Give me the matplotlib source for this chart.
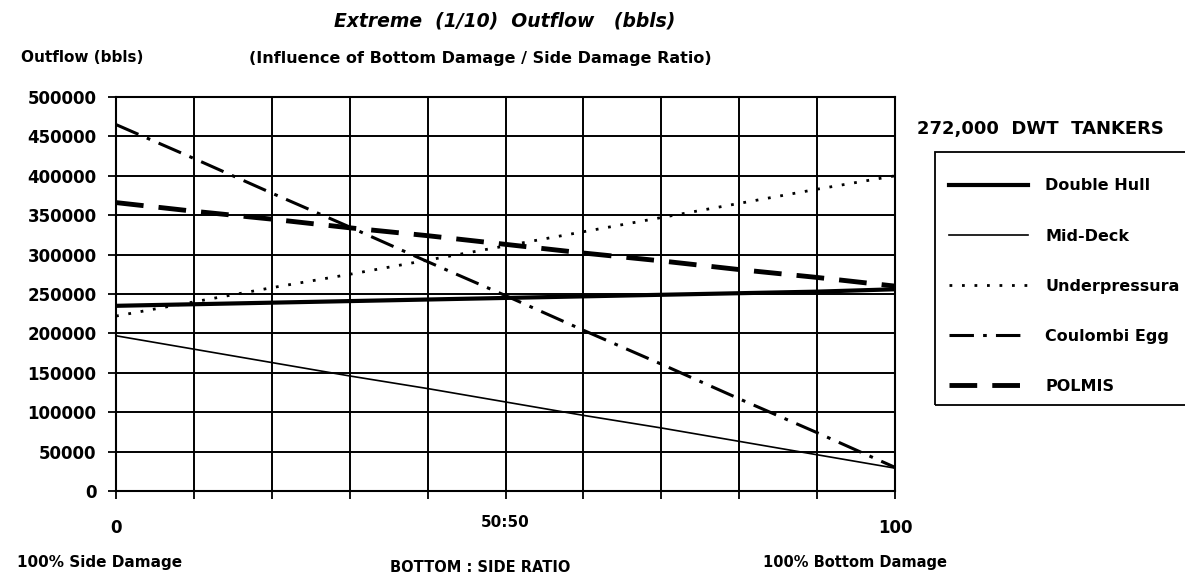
import matplotlib
matplotlib.use('Agg')
import matplotlib.pyplot as plt
from matplotlib.lines import Line2D
from matplotlib.patches import Rectangle
import numpy as np

plt.rcParams['font.family'] = 'DejaVu Sans'
plt.rcParams['font.weight'] = 'bold'

# bottom share of damage (%), 0 = all side damage, 100 = all bottom damage
ratio = [0, 10, 20, 30, 40, 50, 60, 70, 80, 90, 100]

double_hull = [235000, 237000, 239000, 241000, 243000, 245000, 247000, 249000, 251000, 253000, 256000]
mid_deck = [197000, 180000, 163000, 146000, 130000, 113000, 96000, 80000, 63000, 46000, 29000]
underpressure = [222000, 240000, 258000, 275000, 293000, 311000, 329000, 347000, 365000, 383000, 400000]
coulombi_egg = [465000, 422000, 378000, 335000, 291000, 248000, 204000, 161000, 117000, 74000, 30000]
polmis = [366000, 355000, 345000, 334000, 324000, 313000, 302000, 292000, 281000, 271000, 260000]

series_names = ['Double Hull', 'Mid-Deck', 'Underpressura', 'Coulombi Egg', 'POLMIS']
y_ticks = np.arange(0, 500001, 50000)

fig = plt.figure(figsize=(11.85, 5.81), dpi=100)
ax = fig.add_axes([116 / 1185, 90 / 581, 779 / 1185, 394 / 581])

styles = [
    dict(color='black', lw=3.0, ls='-'),
    dict(color='black', lw=1.2, ls='-'),
    dict(color='black', lw=2.0, ls=(0, (1, 3.5))),
    dict(color='black', lw=2.2, ls=(0, (8, 3, 1.2, 3))),
    dict(color='black', lw=3.5, ls=(0, (5.7, 3.1))),
]
all_series = [double_hull, mid_deck, underpressure, coulombi_egg, polmis]

handles = []
for vals, st, name in zip(all_series, styles, series_names):
    ax.plot(ratio, vals, **st)
    handles.append(Line2D([0], [0], **st, label=name))

ax.set_xlim(0, 100)
ax.set_ylim(0, 500000)
ax.set_xticks(ratio)
ax.set_xticklabels([])
ax.set_yticks(y_ticks)
ax.set_yticklabels([str(v) for v in y_ticks], fontsize=12, fontweight='bold')
ax.tick_params(axis='y', length=6, width=1.3, pad=8)
ax.tick_params(axis='x', length=6, width=1.3)
ax.grid(True, color='black', lw=1.4)
for s in ax.spines.values():
    s.set_linewidth(1.5)

# x axis labels
tr = ax.get_xaxis_transform()
ax.text(0, -0.095, '0', transform=tr, ha='center', va='center', fontsize=12, fontweight='bold')
ax.text(50, -0.079, '50:50', transform=tr, ha='center', va='center', fontsize=11, fontweight='bold')
ax.text(100, -0.095, '100', transform=tr, ha='center', va='center', fontsize=12, fontweight='bold')

fig.text(100 / 1185, 1 - 563 / 581, '100% Side Damage', ha='center', va='center', fontsize=11, fontweight='bold')
fig.text(480 / 1185, 1 - 567 / 581, 'BOTTOM : SIDE RATIO', ha='center', va='center', fontsize=10.5, fontweight='bold')
fig.text(855 / 1185, 1 - 563 / 581, '100% Bottom Damage', ha='center', va='center', fontsize=10.5, fontweight='bold')

# titles
fig.text(505 / 1185, 1 - 21 / 581, 'Extreme  (1/10)  Outflow   (bbls)', ha='center', va='center',
         fontsize=13.5, fontweight='bold', fontstyle='italic')
fig.text(480 / 1185, 1 - 58 / 581, '(Influence of Bottom Damage / Side Damage Ratio)', ha='center', va='center',
         fontsize=11.5, fontweight='bold')
fig.text(82 / 1185, 1 - 58 / 581, 'Outflow (bbls)', ha='center', va='center', fontsize=11, fontweight='bold')

# legend
fig.text(1040 / 1185, 1 - 129 / 581, '272,000  DWT  TANKERS', ha='center', va='center', fontsize=13, fontweight='bold')
fig.patches.append(Rectangle((935 / 1185, 1 - 405 / 581), 260 / 1185, 253 / 581, transform=fig.transFigure,
                             fill=False, edgecolor='black', lw=1.3, clip_on=False))
fig.legend(handles=handles, loc='upper left', bbox_to_anchor=(943 / 1185, 1 - 172 / 581),
           frameon=False, handlelength=4.9, labelspacing=2.2, handletextpad=1.1,
           borderaxespad=0, prop={'size': 11.5, 'weight': 'bold'})

fig.savefig('out.png', dpi=100)
